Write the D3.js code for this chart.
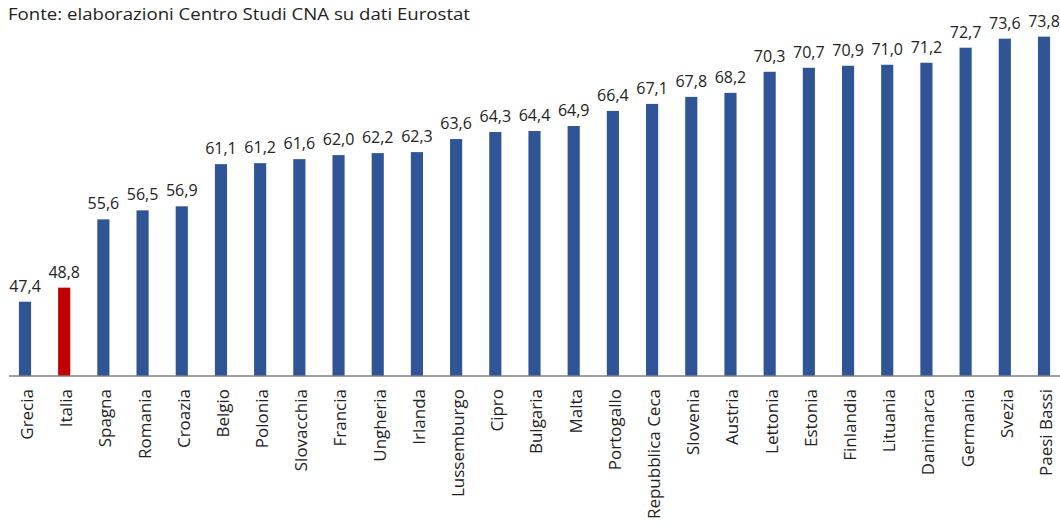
<!DOCTYPE html>
<html>
<head>
<meta charset="utf-8">
<script src="https://cdn.jsdelivr.net/npm/d3@7"></script>
<style>
  body { margin: 0; background: #fff; }
  svg { display: block; font-family: "Open Sans", sans-serif; }
</style>
</head>
<body>
<svg id="chart" width="1060" height="524"></svg>
<script>
const countries = ["Grecia", "Italia", "Spagna", "Romania", "Croazia", "Belgio", "Polonia", "Slovacchia",
  "Francia", "Ungheria", "Irlanda", "Lussemburgo", "Cipro", "Bulgaria", "Malta", "Portogallo",
  "Repubblica Ceca", "Slovenia", "Austria", "Lettonia", "Estonia", "Finlandia", "Lituania",
  "Danimarca", "Germania", "Svezia", "Paesi Bassi"];
const values = [47.4, 48.8, 55.6, 56.5, 56.9, 61.1, 61.2, 61.6, 62.0, 62.2, 62.3, 63.6, 64.3, 64.4,
  64.9, 66.4, 67.1, 67.8, 68.2, 70.3, 70.7, 70.9, 71.0, 71.2, 72.7, 73.6, 73.8];
const highlight = "Italia";
const source = "Fonte: elaborazioni Centro Studi CNA su dati Eurostat";

const data = countries.map((c, i) => ({country: c, value: values[i]}));

const width = 1060, height = 524;
const baseY = 376;

const svg = d3.select("#chart");

const x = d3.scaleBand()
  .domain(countries)
  .range([5.4, 1063.6])
  .paddingInner(0.69)
  .paddingOuter(0.345);

const y = d3.scaleLinear()
  .domain([40, 80])
  .range([baseY, baseY - 401.6]);

// source note
svg.append("text")
  .attr("x", 8)
  .attr("y", 20)
  .attr("font-size", 16)
  .attr("fill", "#222")
  .attr("textLength", 462)
  .attr("lengthAdjust", "spacingAndGlyphs")
  .text(source);

// bars
svg.append("g")
  .selectAll("rect")
  .data(data)
  .join("rect")
  .attr("x", d => x(d.country))
  .attr("width", x.bandwidth())
  .attr("y", d => y(d.value))
  .attr("height", d => y(40) - y(d.value))
  .attr("fill", d => d.country === highlight ? "#C00000" : "#2F5597");

// value labels
svg.append("g")
  .selectAll("text")
  .data(data)
  .join("text")
  .attr("x", d => x(d.country) + x.bandwidth() / 2)
  .attr("y", d => y(d.value) - 10)
  .attr("text-anchor", "middle")
  .attr("font-size", 16)
  .attr("fill", "#222")
  .text(d => d3.format(".1f")(d.value).replace(".", ","));

// x axis
const xAxis = d3.axisBottom(x).tickSize(0).tickPadding(0);
const gx = svg.append("g")
  .attr("transform", `translate(0,${baseY})`)
  .call(xAxis);
gx.select(".domain")
  .attr("d", `M9,0H${width}`)
  .attr("stroke", "#7f7f7f")
  .attr("stroke-width", 1.5);
gx.selectAll(".tick text")
  .attr("font-family", "Open Sans, sans-serif")
  .attr("font-size", 17)
  .attr("fill", "#222")
  .attr("text-anchor", "end")
  .attr("transform", "translate(2,13) rotate(-90)")
  .attr("x", 0)
  .attr("y", 0)
  .attr("dy", "0.35em");
</script>
</body>
</html>
